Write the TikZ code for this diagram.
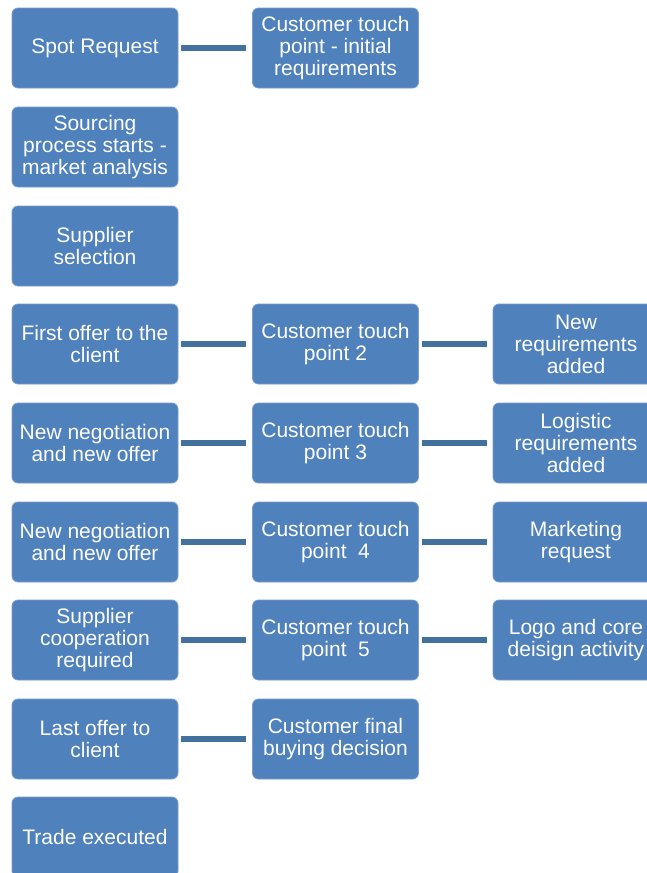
\documentclass[tikz,border=0pt]{standalone}
\usepackage{fontspec}
\setmainfont{Liberation Sans}
\definecolor{boxfill}{HTML}{4F81BD}
\definecolor{boxline}{HTML}{7A9DCB}
\definecolor{linkcol}{HTML}{41719C}
\begin{document}
\begin{tikzpicture}[x=1pt,y=-1pt,
  stepbox/.style={rectangle, rounded corners=6pt, fill=boxfill, draw=boxline, line width=0.8pt,
    minimum width=166pt, minimum height=80pt, inner sep=2pt, align=center, text=white,
    font=\fontsize{21}{22}\selectfont},
  link/.style={draw=linkcol, line width=6pt, shorten <=3pt, shorten >=6pt}]
\useasboundingbox (0,0) rectangle (647,873);
% column 1
\node[stepbox] (a1) at (95,48) {Spot Request};
\node[stepbox] (a2) at (95,147) {Sourcing\\process starts -\\market analysis};
\node[stepbox] (a3) at (95,246) {Supplier\\selection};
\node[stepbox] (a4) at (95,344) {First offer to the\\client};
\node[stepbox] (a5) at (95,443) {New negotiation\\and new offer};
\node[stepbox] (a6) at (95,542) {New negotiation\\and new offer};
\node[stepbox] (a7) at (95,640) {Supplier\\cooperation\\required};
\node[stepbox] (a8) at (95,739) {Last offer to\\client};
\node[stepbox] (a9) at (95,837) {Trade executed};
% column 2
\node[stepbox] (b1) at (335.5,48) {Customer touch\\point - initial\\requirements};
\node[stepbox] (b4) at (335.5,344) {Customer touch\\point 2};
\node[stepbox] (b5) at (335.5,443) {Customer touch\\point 3};
\node[stepbox] (b6) at (335.5,542) {Customer touch\\point~ 4};
\node[stepbox] (b7) at (335.5,640) {Customer touch\\point~ 5};
\node[stepbox] (b8) at (335.5,739) {Customer final\\buying decision};
% column 3
\node[stepbox] (c4) at (576,344) {New\\requirements\\added};
\node[stepbox] (c5) at (576,443) {Logistic\\requirements\\added};
\node[stepbox] (c6) at (576,542) {Marketing\\request};
\node[stepbox] (c7) at (576,640) {Logo and core\\deisign activity};
% connectors
\foreach \r in {1,4,5,6,7,8} { \draw[link] (a\r.east) -- (b\r.west); }
\foreach \r in {4,5,6,7} { \draw[link] (b\r.east) -- (c\r.west); }
\end{tikzpicture}
\end{document}
